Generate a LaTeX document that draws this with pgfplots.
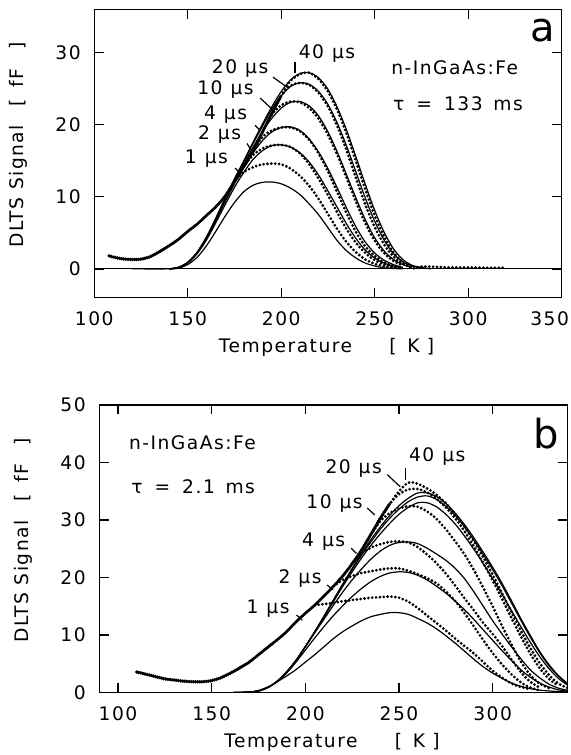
\documentclass[border=0pt]{standalone}
\usepackage{fontspec}
\setmainfont{DejaVu Sans}[LetterSpace=8]
\usepackage{pgfplots}
\pgfplotsset{compat=1.18}
\newcommand{\us}[1]{#1\hspace{6pt}µs}
\pgfplotsset{
  dlts/.style={
    scale only axis,
    axis line style={line width=1.1pt},
    every tick/.style={black, line width=1pt},
    major tick length=7pt,
    tick align=inside,
    /pgf/number format/assume math mode=true,
    tick label style={font=\fontsize{14}{16}\selectfont, inner sep=0pt},
    xticklabel style={anchor=north, yshift=-10pt},
    yticklabel style={anchor=east, xshift=-10pt},
    every axis y label/.style={at={(axis description cs:-0.162,0.53)}, rotate=90, anchor=center, font=\fontsize{14}{16}\selectfont},
    every axis x label/.style={at={(axis description cs:0.497,-0.171)}, anchor=center, font=\fontsize{14}{16}\selectfont},
    xlabel={Temperature\hspace{28pt}[\hspace{8pt}K\hspace{5.5pt}]},
    ylabel={DLTS Signal\hspace{14pt}[\hspace{9pt}fF\hspace{14pt}]},
  },
  fitl/.style={black, line width=0.9pt, smooth, no marks},
  dat/.style={black, line width=2.3pt, line cap=round, dash pattern=on 0pt off 2.9pt, smooth, no marks},
  env/.style={black, line width=2.8pt, line cap=round, dash pattern=on 0pt off 1.6pt, smooth, no marks},
}
\tikzset{
  lead/.style={line width=0.9pt},
  ann/.style={font=\fontsize{14}{16}\selectfont, inner sep=0pt, text height=10pt, text depth=0pt},
  big/.style={font=\fontsize{30}{32}\selectfont, inner sep=0pt},
}
\begin{document}
\begin{tikzpicture}
\useasboundingbox (-70.7pt,-343pt) rectangle (357.5pt,223.3pt);
% ---------------- panel a ----------------
\begin{axis}[dlts, at={(0pt,0pt)}, anchor=south west, width=350.6pt, height=216.3pt,
  xmin=100, xmax=350, ymin=-4, ymax=36, xtick={100,150,...,300}, ytick={0,10,20,30},
  extra x ticks={350}, extra x tick style={xticklabel style={xshift=-9pt}}]
\addplot[black, line width=0.8pt] coordinates {(100,0) (350,0)};
% fits
\addplot[fitl] coordinates {(120,0) (140,0) (145,0.1) (150,0.6) (155,1.6) (160,3.2) (165,5.2) (170,7.3) (175,9.2) (180,10.7) (185,11.6) (190,12.0) (195,12.05) (200,11.8) (205,11.2) (210,10.3) (215,9.0) (220,7.5) (225,5.7) (230,3.9) (235,2.5) (240,1.5) (245,0.8) (250,0.4) (255,0.15) (260,0.05) (265,0)};
\addplot[fitl] coordinates {(140,0) (145,0.15) (150,0.8) (155,2.1) (160,4.0) (165,6.4) (170,8.9) (175,11.3) (180,13.4) (185,15.2) (190,16.4) (195,17.1) (200,17.2) (205,16.9) (210,16.1) (215,14.8) (220,13.0) (225,10.8) (230,8.5) (235,6.2) (240,4.2) (245,2.6) (250,1.5) (255,0.8) (260,0.4) (265,0.15)};
\addplot[fitl] coordinates {(140,0) (145,0.2) (150,0.9) (155,2.2) (160,4.2) (165,6.7) (170,9.3) (175,11.8) (180,14.1) (185,16.1) (190,17.8) (195,19.0) (200,19.6) (205,19.7) (210,19.2) (215,18.0) (220,16.2) (225,13.9) (230,11.2) (235,8.4) (240,5.8) (245,3.7) (250,2.2) (255,1.2) (260,0.6) (265,0.2)};
\addplot[fitl] coordinates {(140,0) (145,0.2) (150,0.9) (155,2.2) (160,4.3) (165,6.9) (170,9.6) (175,12.2) (180,14.6) (185,16.9) (190,19.1) (195,20.9) (200,22.3) (205,23.1) (210,23.2) (215,22.6) (220,21.2) (225,19.0) (230,16.2) (235,13.0) (240,9.8) (245,6.8) (250,4.3) (255,2.5) (260,1.3) (265,0.6) (270,0.2)};
\addplot[fitl] coordinates {(140,0) (145,0.2) (150,0.9) (155,2.3) (160,4.4) (165,7.0) (170,9.8) (175,12.4) (180,14.9) (185,17.4) (190,19.8) (195,22.2) (200,24.0) (205,25.3) (210,25.8) (215,25.6) (220,24.6) (225,22.8) (230,20.2) (235,17.0) (240,13.4) (245,9.8) (250,6.6) (255,4.0) (260,2.1) (265,1.0) (270,0.4) (275,0.1)};
\addplot[fitl] coordinates {(140,0) (145,0.2) (150,0.9) (155,2.3) (160,4.4) (165,7.0) (170,9.8) (175,12.5) (180,15.0) (185,17.6) (190,20.1) (195,22.5) (200,24.6) (205,26.2) (210,27.1) (215,27.2) (220,26.5) (225,24.9) (230,22.4) (235,19.2) (240,15.5) (245,11.7) (250,8.1) (255,5.1) (260,2.8) (265,1.3) (270,0.5) (275,0.2) (280,0)};
% data
\addplot[env] coordinates {(108,1.8) (110,1.65) (115,1.4) (120,1.3) (125,1.35) (130,1.7) (135,2.4) (140,3.2) (145,4.1) (150,5.2) (155,6.2) (160,7.4) (165,8.6) (170,10.1) (175,12.1) (180,14.2) (185,16.4) (190,19.0) (195,21.6) (200,24.0)};
\addplot[dat] coordinates {(175,12.1) (180,13.4) (185,14.1) (190,14.5) (195,14.6) (200,14.5) (205,13.9) (210,12.9) (215,11.5) (220,9.7) (225,7.6) (230,5.5) (235,3.7) (240,2.3) (245,1.3) (250,0.7) (255,0.35) (260,0.2) (265,0.1)};
\addplot[dat] coordinates {(180,14.2) (185,15.8) (190,16.7) (195,17.1) (200,17.2) (205,16.9) (210,16.0) (215,14.5) (220,12.5) (225,10.2) (230,7.8) (235,5.5) (240,3.6) (245,2.2) (250,1.2) (255,0.6) (260,0.3) (265,0.15)};
\addplot[dat] coordinates {(185,16.4) (190,18.3) (195,19.2) (200,19.6) (205,19.6) (210,19.1) (215,17.9) (220,16.0) (225,13.5) (230,10.6) (235,7.7) (240,5.1) (245,3.1) (250,1.8) (255,0.9) (260,0.4) (265,0.2)};
\addplot[dat] coordinates {(190,19.0) (195,21.4) (200,22.7) (205,23.2) (210,23.1) (215,22.3) (220,20.8) (225,18.6) (230,15.8) (235,12.6) (240,9.3) (245,6.3) (250,3.9) (255,2.2) (260,1.1) (265,0.5)};
\addplot[dat] coordinates {(195,21.6) (200,24.0) (205,25.4) (210,25.8) (215,25.5) (220,24.4) (225,22.5) (230,19.8) (235,16.4) (240,12.6) (245,8.9) (250,5.8) (255,3.4) (260,1.7) (265,0.7) (270,0.3)};
\addplot[dat] coordinates {(195,21.6) (200,24.0) (205,26.1) (210,27.0) (215,27.2) (220,26.3) (225,24.6) (230,22.0) (235,18.7) (240,14.9) (245,11.0) (250,7.4) (255,4.5) (260,2.3) (265,0.9) (270,0.1) (275,0.3) (280,0.3) (290,0.2) (300,0.2) (310,0.15) (320,0.15)};
% annotations
\node[big] at (rel axis cs:0.96,0.925) {a};
\node[ann, anchor=west] at (rel axis cs:0.635,0.796) {n-InGaAs:Fe};
\node[ann, anchor=west] at (rel axis cs:0.639,0.672) {τ\hspace{9pt}=\hspace{9pt}133\hspace{8pt}ms};
\node[ann] at (axis cs:224.5,30.05) {\us{40}};
\node[ann] at (axis cs:178,28.0) {\us{20}};
\node[ann] at (axis cs:170.2,25.06) {\us{10}};
\node[ann] at (axis cs:170.2,21.6) {\us{4}};
\node[ann] at (axis cs:167,18.8) {\us{2}};
\node[ann] at (axis cs:160,15.5) {\us{1}};
\draw[lead] (axis cs:207.4,28.7) -- (axis cs:207.4,27.1);
\draw[lead] (axis cs:195.6,26.6) -- (axis cs:203.1,25.2);
\draw[lead] (axis cs:188.7,23.7) -- (axis cs:194.5,22.3);
\draw[lead] (axis cs:186,19.9) -- (axis cs:188.7,19.2);
\draw[lead] (axis cs:181.7,17.4) -- (axis cs:183.8,16.5);
\draw[lead] (axis cs:175.3,13.97) -- (axis cs:178,13.3);
\end{axis}
% ---------------- panel b ----------------
\begin{axis}[dlts, at={(3.75pt,-296.25pt)}, anchor=south west, width=351.3pt, height=215.8pt,
  xmin=90, xmax=340, ymin=0, ymax=50, xtick={100,150,...,300}, ytick={0,10,...,50}]
% fits
\addplot[fitl] coordinates {(160,0) (170,0.1) (175,0.4) (180,1.0) (185,1.9) (190,2.9) (195,4.0) (200,5.3) (205,6.6) (210,8.0) (215,9.4) (220,10.6) (225,11.6) (230,12.5) (235,13.2) (240,13.6) (245,13.9) (250,13.9) (255,13.6) (260,12.9) (265,12.1) (270,11.1) (275,9.9) (280,8.6) (285,7.2) (290,5.8) (295,4.5) (300,3.4) (305,2.5) (310,1.7) (315,1.1) (320,0.7) (325,0.45) (330,0.3) (335,0.2) (340,0.15)};
\addplot[fitl] coordinates {(160,0) (170,0.1) (175,0.3) (180,0.9) (185,1.9) (190,3.4) (195,5.3) (200,7.4) (205,9.5) (210,11.5) (215,13.4) (220,15.1) (225,16.7) (230,18.1) (235,19.3) (240,20.2) (245,20.8) (250,21.0) (255,20.9) (260,20.4) (265,19.6) (270,18.5) (275,17.3) (280,15.9) (285,14.4) (290,12.7) (295,10.9) (300,9.1) (305,7.3) (310,5.6) (315,4.0) (320,2.7) (325,1.7) (330,1.0) (335,0.5) (340,0.25)};
\addplot[fitl] coordinates {(160,0) (170,0.1) (175,0.3) (180,0.9) (185,2.0) (190,3.6) (195,5.6) (200,8.0) (205,10.4) (210,12.8) (215,15.2) (220,17.5) (225,19.6) (230,21.5) (235,23.2) (240,24.6) (245,25.6) (250,26.1) (255,26.2) (260,25.9) (265,25.1) (270,24.1) (275,23.0) (280,21.6) (285,19.8) (290,17.5) (295,15.0) (300,12.5) (305,10.2) (310,8.0) (315,5.9) (320,4.0) (325,2.6) (330,1.5) (335,0.8) (340,0.4)};
\addplot[fitl] coordinates {(160,0) (170,0.1) (175,0.3) (180,0.9) (185,2.0) (190,3.6) (195,5.6) (200,8.0) (205,10.5) (210,13.1) (215,15.8) (220,18.5) (225,21.0) (230,23.4) (235,25.6) (240,27.6) (245,29.4) (250,31.0) (255,32.2) (260,33.0) (265,33.0) (270,32.3) (275,31.0) (280,29.3) (285,27.2) (290,24.9) (295,22.4) (300,19.8) (305,17.1) (310,14.3) (315,11.5) (320,8.8) (325,6.3) (330,4.2) (335,2.5) (340,1.3)};
\addplot[fitl] coordinates {(160,0) (170,0.1) (175,0.3) (180,0.9) (185,2.0) (190,3.6) (195,5.6) (200,8.0) (205,10.6) (210,13.3) (215,16.1) (220,18.8) (225,21.4) (230,23.9) (235,26.2) (240,28.4) (245,30.3) (250,31.9) (255,33.2) (260,34.0) (265,34.2) (270,33.6) (275,32.4) (280,30.8) (285,28.8) (290,26.5) (295,24.0) (300,21.4) (305,18.6) (310,15.6) (315,12.6) (320,9.7) (325,7.0) (330,4.7) (335,2.9) (340,1.5)};
\addplot[fitl] coordinates {(160,0) (170,0.1) (175,0.3) (180,0.9) (185,2.0) (190,3.6) (195,5.6) (200,8.0) (205,10.6) (210,13.3) (215,16.1) (220,18.9) (225,21.6) (230,24.2) (235,26.6) (240,28.8) (245,30.8) (250,32.5) (255,33.8) (260,34.7) (265,34.7) (270,34.1) (275,32.9) (280,31.2) (285,29.2) (290,26.9) (295,24.4) (300,21.8) (305,19.0) (310,16.0) (315,12.9) (320,10.0) (325,7.2) (330,4.9) (335,3.0) (340,1.6)};
% data
\addplot[env] coordinates {(110,3.6) (115,3.2) (120,2.8) (125,2.4) (130,2.2) (135,2.0) (140,1.9) (145,1.9) (150,2.1) (155,2.6) (160,3.4) (165,4.3) (170,5.3) (175,6.6) (180,7.9) (185,9.2) (190,10.6) (195,12.3) (200,13.8) (205,15.2) (210,16.8) (215,18.5) (220,20.3) (225,22.4) (230,24.8) (235,27.5) (240,30.3) (245,32.8)};
\addplot[dat] coordinates {(205,15.2) (210,15.4) (215,15.6) (220,15.9) (225,16.1) (230,16.3) (235,16.5) (240,16.6) (245,16.7) (250,16.5) (255,15.8) (260,14.7) (265,13.4) (270,12.1) (275,10.8) (280,9.4) (285,8.1) (290,6.8) (295,5.3) (300,3.8) (305,2.6) (310,1.6) (315,1.0) (320,0.6)};
\addplot[dat] coordinates {(215,18.5) (220,19.6) (225,20.3) (230,20.8) (235,21.1) (240,21.4) (245,21.6) (250,21.6) (255,21.2) (260,20.6) (265,19.9) (270,19.0) (275,17.6) (280,15.9) (285,13.8) (290,11.5) (295,9.1) (300,6.9) (305,4.9) (310,3.2) (315,1.8) (320,0.9) (325,0.4)};
\addplot[dat] coordinates {(225,22.4) (230,24.2) (235,25.2) (240,25.8) (245,26.2) (250,26.3) (255,26.1) (260,25.3) (265,24.0) (270,22.5) (275,20.7) (280,18.6) (285,16.4) (290,14.3) (295,12.1) (300,10.2) (305,8.1) (310,5.8) (315,3.6) (320,1.9) (325,0.9)};
\addplot[dat] coordinates {(235,27.5) (240,29.8) (245,31.2) (250,32.0) (255,32.4) (260,32.3) (265,31.5) (270,30.2) (275,28.4) (280,26.3) (285,24.0) (290,21.3) (295,18.2) (300,15.0) (305,11.6) (310,8.4) (315,5.4) (320,3.1) (325,1.6) (330,0.8)};
\addplot[dat] coordinates {(240,30.3) (245,32.8) (250,34.5) (255,35.3) (260,35.4) (265,34.8) (270,33.7) (275,32.2) (280,30.3) (285,28.0) (290,25.4) (295,22.5) (300,19.5) (305,16.3) (310,13.0) (315,9.8) (320,6.8) (325,4.3) (330,2.4) (335,1.2)};
\addplot[dat] coordinates {(240,30.3) (245,32.8) (250,35.0) (255,36.5) (260,36.3) (265,35.5) (270,34.4) (275,32.9) (280,31.0) (285,28.8) (290,26.3) (295,23.5) (300,20.5) (305,17.3) (310,14.0) (315,10.8) (320,7.8) (325,5.2) (330,3.1) (335,1.6) (340,0.8)};
% annotations
\node[big] at (rel axis cs:0.954,0.899) {b};
\node[ann, anchor=west] at (rel axis cs:0.063,0.868) {n-InGaAs:Fe};
\node[ann, anchor=west] at (rel axis cs:0.068,0.716) {τ\hspace{9pt}=\hspace{9pt}2.1\hspace{8pt}ms};
\node[ann] at (axis cs:270.4,41.3) {\us{40}};
\node[ann] at (axis cs:225.8,39.3) {\us{20}};
\node[ann] at (axis cs:215.6,33.2) {\us{10}};
\node[ann] at (axis cs:209.8,26.6) {\us{4}};
\node[ann] at (axis cs:197.2,20.2) {\us{2}};
\node[ann] at (axis cs:180.1,15.0) {\us{1}};
\draw[lead] (axis cs:253.6,39.0) -- (axis cs:253.6,36.9);
\draw[lead] (axis cs:243.7,37.9) -- (axis cs:250.6,35.8);
\draw[lead] (axis cs:233,32.1) -- (axis cs:237,30.9);
\draw[lead] (axis cs:224.5,25.1) -- (axis cs:227.3,24.2);
\draw[lead] (axis cs:211.6,18.7) -- (axis cs:214.8,17.9);
\draw[lead] (axis cs:195.3,13.5) -- (axis cs:198.3,12.6);
\end{axis}
\end{tikzpicture}
\end{document}
